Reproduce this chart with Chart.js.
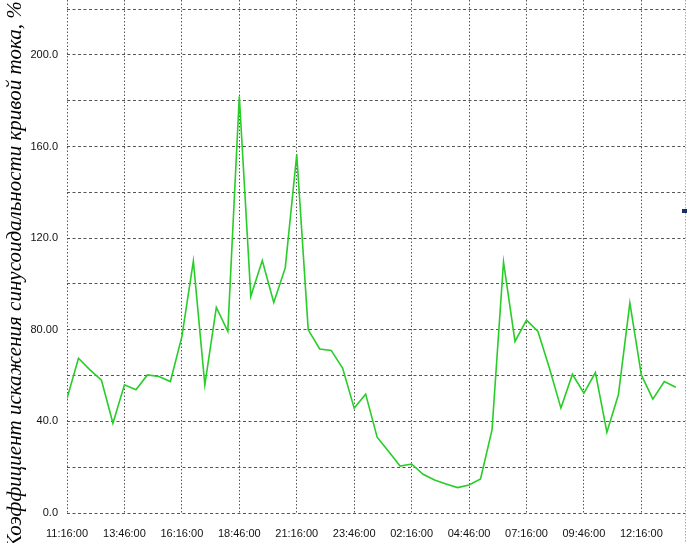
<!DOCTYPE html>
<html>
<head>
<meta charset="utf-8">
<script src="https://cdn.jsdelivr.net/npm/chart.js@4.4.0/dist/chart.umd.min.js"></script>
<style>
  html, body { margin: 0; padding: 0; background: #ffffff; }
  canvas { display: block; }
</style>
</head>
<body>
<canvas id="c" width="689" height="543"></canvas>
<script>
// Half-hour samples starting at 11:16:00
const values = [
  50, 67.6, 62.5, 58, 39.2, 56, 53.8, 60.3, 59.6, 57.4,
  77, 110, 56, 89.8, 79.3, 182, 94.6, 110.2, 91.9, 107,
  156.5, 80, 71.6, 71, 63.2, 45.8, 51.9, 33.1, 26.8, 20.5,
  21.4, 16.9, 14.4, 12.7, 11.1, 12.2, 14.9, 36.3, 109.6, 74.9,
  84.2, 79.3, 63.2, 45.8, 60.6, 52.3, 61.3, 35.3, 51.6, 91.7,
  60.3, 49.7, 57.4, 54.9
];
const xTickLabels = ["11:16:00", "13:46:00", "16:16:00", "18:46:00", "21:16:00", "23:46:00",
                     "02:16:00", "04:46:00", "07:16:00", "09:46:00", "12:16:00"];
const yTickLabels = { 0: "0.0", 40: "40.0", 80: "80.00", 120: "120.0", 160: "160.0", 200: "200.0" };
const yTitle = "Коэффициент искажения синусоидальности кривой тока, %";

const points = values.map((v, i) => ({ x: i, y: v }));

const decor = {
  id: 'decor',
  afterDraw(chart) {
    const ctx = chart.ctx;
    const a = chart.chartArea;
    ctx.save();
    // right border (dotted light blue)
    ctx.strokeStyle = '#8fb4d8';
    ctx.lineWidth = 1;
    ctx.setLineDash([1.5, 1.5]);
    ctx.beginPath();
    ctx.moveTo(a.right + 0.5, 0);
    ctx.lineTo(a.right + 0.5, chart.height);
    ctx.stroke();
    ctx.setLineDash([]);
    // small marker on the right edge
    ctx.fillStyle = '#1a2f6a';
    ctx.fillRect(a.right - 3, a.top + Math.round((a.bottom - a.top) * 0.408), 5, 4);
    // y title
    ctx.translate(15, 275);
    ctx.rotate(-Math.PI / 2);
    ctx.fillStyle = '#000';
    ctx.font = 'italic 21px "Liberation Serif"';
    ctx.textAlign = 'center';
    ctx.textBaseline = 'middle';
    ctx.fillText(yTitle, 0, 0);
    ctx.restore();
  }
};

new Chart(document.getElementById('c'), {
  type: 'line',
  data: {
    datasets: [{
      data: points,
      borderColor: 'rgb(40,205,40)',
      borderWidth: 1.6,
      pointRadius: 0,
      tension: 0,
      fill: false
    }]
  },
  options: {
    responsive: false,
    devicePixelRatio: 1,
    animation: false,
    layout: { padding: { left: 0, right: 4, top: 0, bottom: 0 } },
    plugins: { legend: { display: false }, tooltip: { enabled: false } },
    scales: {
      x: {
        type: 'linear',
        min: 0,
        max: 53.8,
        afterFit(s) { s.height = 30; },
        grid: {
          color: '#555555',
          lineWidth: 1,
          drawTicks: false,
          tickLength: 0
        },
        border: { display: false, dash: [1.5, 2] },
        ticks: {
          stepSize: 5,
          includeBounds: false,
          autoSkip: false,
          maxRotation: 0,
          padding: 14,
          color: '#111111',
          font: { family: '"Liberation Sans"', size: 11 },
          callback(v) { return xTickLabels[v / 5]; }
        }
      },
      y: {
        type: 'linear',
        min: 0,
        max: 224,
        afterFit(s) { s.width = 67; s.paddingTop = 0; s.paddingBottom = 0; },
        grid: {
          color: '#555555',
          lineWidth: 1,
          drawTicks: false,
          tickLength: 0
        },
        border: { display: false, dash: [3, 2.5] },
        ticks: {
          stepSize: 20,
          includeBounds: false,
          padding: 9,
          color: '#111111',
          font: { family: '"Liberation Sans"', size: 11 },
          callback(v) { return yTickLabels[v] !== undefined ? yTickLabels[v] : ''; }
        }
      }
    }
  },
  plugins: [decor]
});
</script>
</body>
</html>
